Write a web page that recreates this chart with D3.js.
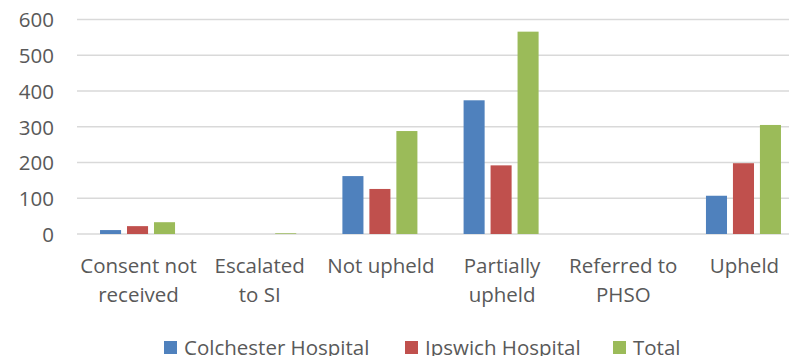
<!DOCTYPE html>
<html>
<head>
<meta charset="utf-8">
<script src="https://cdn.jsdelivr.net/npm/d3@7"></script>
<style>
  html, body { margin: 0; padding: 0; background: #fff; overflow: hidden; }
  svg { display: block; }
  text { font-family: "Open Sans", "Noto Sans", sans-serif; fill: #595959; }
</style>
</head>
<body>
<svg id="chart" width="789" height="356"></svg>
<script>
// Complaint outcomes by hospital
const categories = [
  ["Consent not", "received"],
  ["Escalated", "to SI"],
  ["Not upheld"],
  ["Partially", "upheld"],
  ["Referred to", "PHSO"],
  ["Upheld"]
];
const seriesNames = ["Colchester Hospital", "Ipswich Hospital", "Total"];
const colchester = [11, 0, 162, 374, 0, 107];
const ipswich    = [22, 0, 126, 192, 0, 198];
const total      = [33, 2, 288, 566, 0, 305];
const yTicks = [0, 100, 200, 300, 400, 500, 600];
const colors = ["#4f81bd", "#c0504d", "#9bbb59"];

const seriesValues = [colchester, ipswich, total];
const svg = d3.select("#chart");
const W = 789;
const fontSize = 20.5;

// plot area runs a little past the right edge of the canvas
const plotLeft = 77, plotRight = 804;
const x = d3.scaleBand()
  .domain(d3.range(categories.length))
  .range([plotLeft, plotRight])
  .paddingInner(0.381)
  .paddingOuter(0.19);

const x1 = d3.scaleBand()
  .domain(d3.range(seriesNames.length))
  .range([0, x.bandwidth()])
  .paddingInner(0.22);

const y = d3.scaleLinear()
  .domain([0, 600])
  .range([234, 19.5]);

// gridlines
svg.append("g")
  .selectAll("line")
  .data(yTicks)
  .join("line")
  .attr("x1", plotLeft)
  .attr("x2", W)
  .attr("y1", d => y(d))
  .attr("y2", d => y(d))
  .attr("stroke", "#d9d9d9")
  .attr("stroke-width", 1.4);

// y axis labels
const yAxis = d3.axisLeft(y).tickValues(yTicks).tickSize(0).tickPadding(0);
const gy = svg.append("g")
  .attr("transform", `translate(54,0)`)
  .call(yAxis);
gy.select(".domain").remove();
gy.selectAll("text")
  .attr("font-size", fontSize)
  .attr("fill", "#595959")
  .style("font-family", "'Open Sans', 'Noto Sans', sans-serif")
  .attr("dy", "0.36em");

// bars
const groups = svg.append("g")
  .selectAll("g")
  .data(d3.range(categories.length))
  .join("g")
  .attr("transform", d => `translate(${x(d)},0)`);

groups.selectAll("rect")
  .data(ci => seriesValues.map((vals, si) => ({ si, v: vals[ci] })))
  .join("rect")
  .attr("x", d => x1(d.si))
  .attr("width", x1.bandwidth())
  .attr("y", d => y(d.v))
  .attr("height", d => y(0) - y(d.v))
  .attr("fill", d => colors[d.si]);

// category labels
const xAxis = svg.append("g");
categories.forEach((lines, i) => {
  const cx = x(i) + x.bandwidth() / 2 + 1;
  const t = xAxis.append("text")
    .attr("x", cx)
    .attr("y", 273)
    .attr("text-anchor", "middle")
    .attr("font-size", fontSize);
  lines.forEach((ln, j) => {
    t.append("tspan")
      .attr("x", cx)
      .attr("dy", j === 0 ? 0 : 29)
      .text(ln);
  });
});

// legend
const legendTextX = [184, 425, 633];
const legend = svg.append("g");
seriesNames.forEach((name, i) => {
  legend.append("rect")
    .attr("x", legendTextX[i] - 20)
    .attr("y", 341)
    .attr("width", 13)
    .attr("height", 13)
    .attr("fill", colors[i]);
  legend.append("text")
    .attr("x", legendTextX[i])
    .attr("y", 355)
    .attr("font-size", fontSize)
    .text(name);
});
</script>
</body>
</html>
